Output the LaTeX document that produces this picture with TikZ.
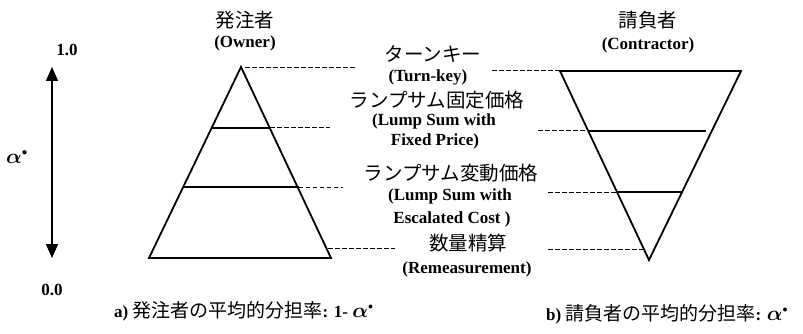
\documentclass[tikz,border=0pt]{standalone}
\usepackage{amsmath,amssymb}
\usepackage{fontspec}
\setmainfont{Liberation Serif}
\newfontfamily\jp{Noto Sans CJK JP}
\usetikzlibrary{arrows.meta}
\newcommand{\alst}{\ensuremath{\boldsymbol{\alpha}^{\scriptscriptstyle\bullet}}}
\begin{document}
\begin{tikzpicture}[x=1pt,y=-1pt,
  tri/.style={line width=1.8pt, line join=miter},
  lvl/.style={line width=1.3pt},
  dsh/.style={line width=1pt, dash pattern=on 4.5pt off 2.5pt},
  jl/.style={font=\jp\fontsize{19.5}{21}\selectfont, inner sep=0pt},
  el/.style={font=\bfseries\fontsize{17}{19}\selectfont, inner sep=0pt},
  captext/.style={font=\bfseries\fontsize{17}{19}\selectfont, inner sep=0pt, anchor=west},
  axis/.style={line width=1.5pt, {Triangle[width=12pt,length=14pt]}-{Triangle[width=12pt,length=14pt]}}
]
\useasboundingbox (0,0) rectangle (803,334);

% left triangle (owner)
\coordinate (LA) at (241,67);
\coordinate (LBL) at (149,258);
\coordinate (LBR) at (331,258);
\draw[tri] (LA) -- (LBL) -- (LBR) -- cycle;
\coordinate (L1l) at (211.6,128); \coordinate (L1r) at (270.4,128);
\coordinate (L2l) at (183.2,187); \coordinate (L2r) at (298.8,187);
\draw[lvl] (L1l) -- (L1r);
\draw[lvl] (L2l) -- (L2r);

% right triangle (contractor)
\coordinate (RTL) at (560,71);
\coordinate (RTR) at (741,71);
\coordinate (RA) at (649,260);
\draw[tri] (RTL) -- (RTR) -- (RA) -- cycle;
\coordinate (R1l) at (588.3,131); \coordinate (R1r) at (706,131);
\coordinate (R2l) at (617,192); \coordinate (R2r) at (682,192);
\draw[lvl] (R1l) -- (R1r);
\draw[lvl] (R2l) -- (R2r);

% dashed leaders, left
\coordinate (LAd) at (245,68);   \coordinate (D1) at (357,68);
\coordinate (D2) at (330,128);
\coordinate (D3) at (343,187);
\coordinate (LBd) at (328.2,248); \coordinate (D4) at (395,248);
\draw[dsh] (LAd) -- (D1);
\draw[dsh] (L1r) -- (D2);
\draw[dsh] (L2r) -- (D3);
\draw[dsh] (LBd) -- (D4);

% dashed leaders, right
\coordinate (E1) at (492,71);
\coordinate (E2) at (538,131);
\coordinate (E3) at (548,192);
\coordinate (E4) at (548,249); \coordinate (RBd) at (643.8,249);
\draw[dsh] (E1) -- (RTL);
\draw[dsh] (E2) -- (R1l);
\draw[dsh] (E3) -- (R2l);
\draw[dsh] (E4) -- (RBd);

% axis
\coordinate (Ytop) at (52,67);
\coordinate (Ybot) at (52,258);
\draw[axis] (Ybot) -- (Ytop);
\node[el] (one) at (67,50) {1.0};
\node[el] (zero) at (52,290) {0.0};
\node[inner sep=0pt, font=\fontsize{21}{23}\selectfont] (alpha) at (17,157) {\alst};

% titles
\node[jl] (own) at (245,20) {発注者};
\node[el] (owne) at (245,43) {(Owner)};
\node[jl] (con) at (648,20) {請負者};
\node[el] (cone) at (648,45) {(Contractor)};

% middle labels
\node[jl] (tk) at (433,54) {ターンキー};
\node[el] (tke) at (428,77) {(Turn-key)};
\node[jl] (lf) at (437,100) {ランプサム固定価格};
\node[el] (lfe1) at (434,121) {(Lump Sum with};
\node[el] (lfe2) at (435,141) {Fixed Price)};
\node[jl] (lv) at (451,173) {ランプサム変動価格};
\node[el] (lve1) at (450,196) {(Lump Sum with};
\node[el] (lve2) at (452,219) {Escalated Cost )};
\node[jl] (rm) at (468,243) {数量精算};
\node[el] (rme) at (467,269) {(Remeasurement)};

% captions
\node[captext] (capa) at (114,311) {a) {\jp\mdseries\fontsize{19}{21}\selectfont 発注者の平均的分担率}: 1- {\fontsize{20}{22}\selectfont\alst}};
\node[captext] (capb) at (546,314) {b) {\jp\mdseries\fontsize{19}{21}\selectfont 請負者の平均的分担率}: {\fontsize{20}{22}\selectfont\alst}};
\end{tikzpicture}
\end{document}
